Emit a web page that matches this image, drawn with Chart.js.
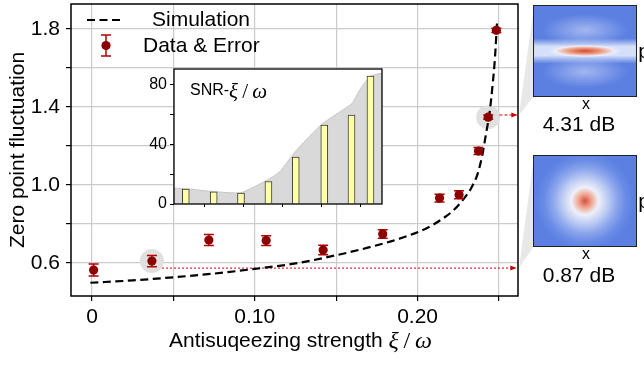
<!DOCTYPE html>
<html>
<head>
<meta charset="utf-8">
<script src="https://cdn.jsdelivr.net/npm/chart.js@4.4.1/dist/chart.umd.min.js"></script>
<style>
  body { margin: 0; background: #fff; }
  #wrap { position: relative; width: 644px; height: 365px; overflow: hidden; font-family: "Liberation Sans", Arial, sans-serif; }
  #main { position: absolute; left: 0; top: 0; }
  #inset { position: absolute; left: 140px; top: 60px; }
  .wig { position: absolute; left: 533px; width: 104px; height: 92px; box-sizing: border-box; border: 1px solid #222; }
  #wigTop {
    top: 5px;
    background:
      radial-gradient(ellipse 36% 7% at 50% 50%, #d24a3c 0%, #ee9a7c 45%, rgba(238,238,248,0.95) 80%, rgba(238,238,248,0) 100%),
      linear-gradient(to bottom, rgba(220,228,250,0) 36%, rgba(220,228,250,0.95) 45%, rgba(220,228,250,0.95) 55%, rgba(220,228,250,0) 64%),
      radial-gradient(ellipse 42% 18% at 50% 27%, #a3b6f0 0%, rgba(163,182,240,0) 100%),
      radial-gradient(ellipse 42% 18% at 50% 73%, #a3b6f0 0%, rgba(163,182,240,0) 100%),
      #5b80e2;
  }
  #wigBot {
    top: 155px;
    background:
      radial-gradient(circle at 50% 50%, #d44c44 0%, #ef9f86 9%, #eef0fa 20%, #bccbf3 34%, #90a9ed 46%, #6a8ce6 60%, #5b80e2 72%);
  }
  .lab { position: absolute; color: #000; white-space: nowrap; line-height: 1; transform: translate(-50%, -50%); }
</style>
</head>
<body>
<div id="wrap">
  <canvas id="main" width="644" height="365"></canvas>
  <canvas id="inset" width="250" height="155"></canvas>
  <div class="wig" id="wigTop"></div>
  <div class="wig" id="wigBot"></div>
  <div class="lab" style="left:586px;top:104px;font-size:16px">x</div>
  <div class="lab" style="left:579px;top:123px;font-size:21px">4.31 dB</div>
  <div class="lab" style="left:644px;top:50px;font-size:21px">p</div>
  <div class="lab" style="left:586px;top:254px;font-size:16px">x</div>
  <div class="lab" style="left:579px;top:274px;font-size:21px">0.87 dB</div>
  <div class="lab" style="left:644px;top:200px;font-size:21px">p</div>
</div>
<script>
Chart.defaults.font.family = '"Liberation Sans", Arial, Helvetica, sans-serif';
Chart.defaults.color = "#000";

// measured points: antisqueezing strength vs zero point fluctuation
const xi = [0.001, 0.0368, 0.0718, 0.107, 0.142, 0.1786, 0.2135, 0.2255, 0.2374, 0.2434, 0.2484];
const zpf = [0.564, 0.610, 0.718, 0.715, 0.667, 0.749, 0.933, 0.950, 1.174, 1.348, 1.793];
const zpfErr = [0.031, 0.029, 0.028, 0.025, 0.024, 0.022, 0.02, 0.02, 0.018, 0.011, 0.011];

// simulation curve
const simX = [-0.001, 0.025, 0.05, 0.075, 0.10, 0.125, 0.15, 0.17, 0.19, 0.205, 0.215, 0.222, 0.2285, 0.233, 0.237, 0.240, 0.2421, 0.2442, 0.2462, 0.2476, 0.2489];
const simY = [0.499, 0.511, 0.527, 0.546, 0.570, 0.598, 0.640, 0.680, 0.728, 0.776, 0.825, 0.870, 0.930, 0.985, 1.060, 1.163, 1.265, 1.368, 1.522, 1.658, 1.846];

// highlighted points (indices into xi) and the reference arrows
const highlighted = [1, 9];
const refLevel = 0.574;
const refFrom = 0.043;
const refTo = 0.2601;
const topLevel = 1.359;
const topFrom = 0.2503;
const topTo = 0.2607;

// inset: SNR bars and grey envelope
const snrX = [0.001, 0.0368, 0.0718, 0.107, 0.142, 0.1786, 0.2135, 0.2378];
const snrVal = [10.1, 8.1, 7.4, 15.1, 31.5, 53, 59.8, 86];
const envX = [-0.0141, 0.001, 0.0368, 0.0718, 0.107, 0.1218, 0.141, 0.1753, 0.2137, 0.2244, 0.2378, 0.2526];
const envY = [10.6, 10.3, 8.3, 7.6, 16.5, 21.8, 35, 53.6, 67.4, 77, 86, 88];

// ticks
const xTicks = [0, 0.05, 0.10, 0.15, 0.20, 0.25];
const xTickLabels = ["0", "", "0.10", "", "0.20", ""];
const yTicks = [0.6, 0.8, 1.0, 1.2, 1.4, 1.6, 1.8];
const yTickLabels = ["0.6", "", "1.0", "", "1.4", "", "1.8"];
const insetXTicks = [0, 0.05, 0.10, 0.15, 0.20, 0.25];
const insetYTicks = [0, 20, 40, 60, 80];
const insetYLabels = ["0", "", "40", "", "80"];

const red = "#8b0000";
const errRed = "#b20000";
const mathFont = 'italic 24px "Liberation Serif", "DejaVu Serif", serif';

function arrowHead(ctx, px, py, color) {
  ctx.fillStyle = color;
  ctx.beginPath();
  ctx.moveTo(px + 1, py);
  ctx.lineTo(px - 5, py - 2.5);
  ctx.lineTo(px - 5, py + 2.5);
  ctx.closePath();
  ctx.fill();
}

const errorBars = {
  id: "errorBars",
  beforeDatasetDraw(chart, args) {
    if (args.index !== 1) return;
    const { ctx, scales: { x, y } } = chart;
    ctx.save();
    ctx.strokeStyle = errRed;
    ctx.lineWidth = 1.5;
    xi.forEach((v, i) => {
      const px = x.getPixelForValue(v);
      const top = y.getPixelForValue(zpf[i] + zpfErr[i]);
      const bot = y.getPixelForValue(zpf[i] - zpfErr[i]);
      ctx.beginPath();
      ctx.moveTo(px, top); ctx.lineTo(px, bot);
      ctx.moveTo(px - 5, top); ctx.lineTo(px + 5, top);
      ctx.moveTo(px - 5, bot); ctx.lineTo(px + 5, bot);
      ctx.stroke();
    });
    ctx.restore();
  }
};

const mainDecor = {
  id: "mainDecor",
  afterDraw(chart) {
    const { ctx, chartArea: a, scales: { x, y } } = chart;
    ctx.save();

    // grey zoom wedges towards the side panels
    const yTop = y.getPixelForValue(topLevel);
    const yRef = y.getPixelForValue(refLevel);
    ctx.fillStyle = "#e8e8e8";
    ctx.beginPath();
    ctx.moveTo(a.right + 1, yTop); ctx.lineTo(534, 6); ctx.lineTo(534, 96); ctx.closePath();
    ctx.fill();
    ctx.beginPath();
    ctx.moveTo(a.right + 1, yRef); ctx.lineTo(534, 156); ctx.lineTo(534, 246); ctx.closePath();
    ctx.fill();

    // frame
    ctx.strokeStyle = "#000";
    ctx.lineWidth = 1.5;
    ctx.strokeRect(a.left, a.top, a.right - a.left, a.bottom - a.top);

    // arrow heads
    arrowHead(ctx, x.getPixelForValue(refTo), yRef, "#cc0000");
    arrowHead(ctx, x.getPixelForValue(topTo), yTop, "#cc0000");

    // legend
    ctx.strokeStyle = "#000";
    ctx.lineWidth = 2.2;
    ctx.setLineDash([8, 4.5]);
    ctx.beginPath(); ctx.moveTo(87, 20); ctx.lineTo(123, 20); ctx.stroke();
    ctx.setLineDash([]);
    ctx.strokeStyle = errRed;
    ctx.lineWidth = 1.5;
    ctx.beginPath();
    ctx.moveTo(106, 35); ctx.lineTo(106, 56);
    ctx.moveTo(101, 35); ctx.lineTo(111, 35);
    ctx.moveTo(101, 56); ctx.lineTo(111, 56);
    ctx.stroke();
    ctx.fillStyle = red;
    ctx.beginPath(); ctx.arc(106, 45.5, 4.6, 0, Math.PI * 2); ctx.fill();
    ctx.fillStyle = "#000";
    ctx.font = '21px "Liberation Sans", Arial, sans-serif';
    ctx.textBaseline = "middle";
    ctx.textAlign = "left";
    ctx.fillText("Simulation", 152, 20);
    ctx.fillText("Data & Error", 143, 46);

    // x axis title with math symbols
    const t1 = "Antisuqeezing strength ";
    const w1 = ctx.measureText(t1).width;
    ctx.font = mathFont;
    const wXi = ctx.measureText("\u03be").width;
    const wSl = ctx.measureText("\u2009/\u2009").width;
    const wOm = ctx.measureText("\u03c9").width;
    let tx = (a.left + a.right) / 2 + 6 - (w1 + wXi + wSl + wOm) / 2;
    const ty = 341;
    ctx.font = '21px "Liberation Sans", Arial, sans-serif';
    ctx.fillText(t1, tx, ty);
    tx += w1;
    ctx.font = mathFont;
    ctx.fillText("\u03be", tx, ty + 1); tx += wXi;
    ctx.font = '24px "Liberation Serif", serif';
    ctx.fillText("\u2009/\u2009", tx, ty + 1); tx += wSl;
    ctx.font = mathFont;
    ctx.fillText("\u03c9", tx, ty + 1);
    ctx.restore();
  }
};

new Chart(document.getElementById("main"), {
  type: "scatter",
  data: {
    datasets: [
      {
        label: "Simulation",
        data: simX.map((v, i) => ({ x: v, y: simY[i] })),
        showLine: true,
        borderColor: "#000",
        borderWidth: 2.2,
        borderDash: [8, 4.5],
        pointRadius: 0,
        cubicInterpolationMode: "monotone",
        order: 2
      },
      {
        label: "Data & Error",
        data: xi.map((v, i) => ({ x: v, y: zpf[i] })),
        pointRadius: 4.6,
        backgroundColor: red,
        borderWidth: 0,
        order: 1
      },
      {
        label: "highlight",
        data: highlighted.map(i => ({ x: xi[i], y: zpf[i] })),
        pointRadius: 12,
        backgroundColor: "#e0e0e0",
        borderWidth: 0,
        order: 5
      },
      {
        label: "reference",
        data: [{ x: refFrom, y: refLevel }, { x: refTo, y: refLevel }],
        showLine: true,
        borderColor: "#cc0000",
        borderWidth: 1,
        borderDash: [2, 2],
        pointRadius: 0,
        order: 3
      },
      {
        label: "top arrow",
        data: [{ x: topFrom, y: topLevel }, { x: topTo, y: topLevel }],
        showLine: true,
        borderColor: "#cc0000",
        borderWidth: 1,
        borderDash: [3, 2],
        pointRadius: 0,
        order: 3
      }
    ]
  },
  options: {
    responsive: false,
    animation: false,
    layout: { autoPadding: false, padding: { top: 4, right: 126, left: 0, bottom: 0 } },
    plugins: { legend: { display: false }, tooltip: { enabled: false } },
    scales: {
      x: {
        type: "linear",
        min: -0.0129,
        max: 0.2617,
        afterBuildTicks: s => { s.ticks = xTicks.map(v => ({ value: v })); },
        afterFit: s => { s.height = 69; s.paddingLeft = 0; s.paddingRight = 0; },
        grid: { color: "#cbcbcb", lineWidth: 1.2, tickColor: "#000", tickLength: 5, tickWidth: 1.2 },
        border: { display: false },
        ticks: { font: { size: 21 }, padding: 4, maxRotation: 0, autoSkip: false, callback: (v, i) => xTickLabels[i] }
      },
      y: {
        min: 0.431,
        max: 1.928,
        afterBuildTicks: s => { s.ticks = yTicks.map(v => ({ value: v })); },
        afterFit: s => { s.width = 71; s.paddingTop = 0; s.paddingBottom = 0; },
        grid: { color: "#cbcbcb", lineWidth: 1.2, tickColor: "#000", tickLength: 5, tickWidth: 1.2 },
        border: { display: false },
        ticks: { font: { size: 21 }, padding: 6, autoSkip: false, callback: (v, i) => yTickLabels[i] },
        title: { display: true, text: "Zero point fluctuation", font: { size: 21 }, padding: { top: 6, bottom: 0 } }
      }
    }
  },
  plugins: [errorBars, mainDecor]
});

const insetDecor = {
  id: "insetDecor",
  beforeDraw(chart) {
    const { ctx, chartArea: a } = chart;
    ctx.save();
    ctx.fillStyle = "#fff";
    ctx.fillRect(a.left, a.top, a.right - a.left, a.bottom - a.top);
    ctx.restore();
  },
  afterDraw(chart) {
    const { ctx, chartArea: a } = chart;
    ctx.save();
    ctx.strokeStyle = "#000";
    ctx.lineWidth = 1.3;
    ctx.strokeRect(a.left, a.top, a.right - a.left, a.bottom - a.top);
    ctx.fillStyle = "#000";
    ctx.textBaseline = "middle";
    ctx.font = '16px "Liberation Sans", Arial, sans-serif';
    let tx = a.left + 16;
    const ty = a.top + 22;
    ctx.fillText("SNR-", tx, ty);
    tx += ctx.measureText("SNR-").width;
    ctx.font = 'italic 21px "Liberation Serif", serif';
    ctx.fillText("\u03be", tx, ty + 1);
    tx += ctx.measureText("\u03be").width;
    ctx.font = '21px "Liberation Serif", serif';
    ctx.fillText("\u2009/\u2009", tx, ty + 1);
    tx += ctx.measureText("\u2009/\u2009").width;
    ctx.font = 'italic 21px "Liberation Serif", serif';
    ctx.fillText("\u03c9", tx, ty + 1);
    ctx.restore();
  }
};

new Chart(document.getElementById("inset"), {
  type: "bar",
  data: {
    datasets: [
      {
        type: "bar",
        data: snrX.map((v, i) => ({ x: v, y: snrVal[i] })),
        backgroundColor: "#ffffa8",
        borderColor: "#3a3a3a",
        borderWidth: 1,
        barThickness: 7,
        order: 1
      },
      {
        type: "line",
        data: envX.map((v, i) => ({ x: v, y: envY[i] })),
        fill: "origin",
        backgroundColor: "#d9d9d9",
        borderColor: "#c6c6c6",
        borderWidth: 1,
        pointRadius: 0,
        tension: 0.15,
        order: 2
      }
    ]
  },
  options: {
    responsive: false,
    animation: false,
    layout: { autoPadding: false, padding: { top: 9, right: 8, left: 0, bottom: 0 } },
    plugins: { legend: { display: false }, tooltip: { enabled: false } },
    scales: {
      x: {
        type: "linear",
        offset: false,
        min: -0.0141,
        max: 0.2526,
        afterBuildTicks: s => { s.ticks = insetXTicks.map(v => ({ value: v })); },
        afterFit: s => { s.height = 11; s.paddingLeft = 0; s.paddingRight = 0; },
        grid: { drawOnChartArea: false, tickColor: "#000", tickLength: 3 },
        border: { display: false },
        ticks: { callback: () => "" }
      },
      y: {
        min: 0,
        max: 90.7,
        afterBuildTicks: s => { s.ticks = insetYTicks.map(v => ({ value: v })); },
        afterFit: s => { s.width = 34; s.paddingTop = 0; s.paddingBottom = 0; },
        grid: { drawOnChartArea: false, tickColor: "#000", tickLength: 4 },
        border: { display: false },
        ticks: { font: { size: 16 }, padding: 3, autoSkip: false, callback: (v, i) => insetYLabels[i] }
      }
    }
  },
  plugins: [insetDecor]
});
</script>
</body>
</html>
